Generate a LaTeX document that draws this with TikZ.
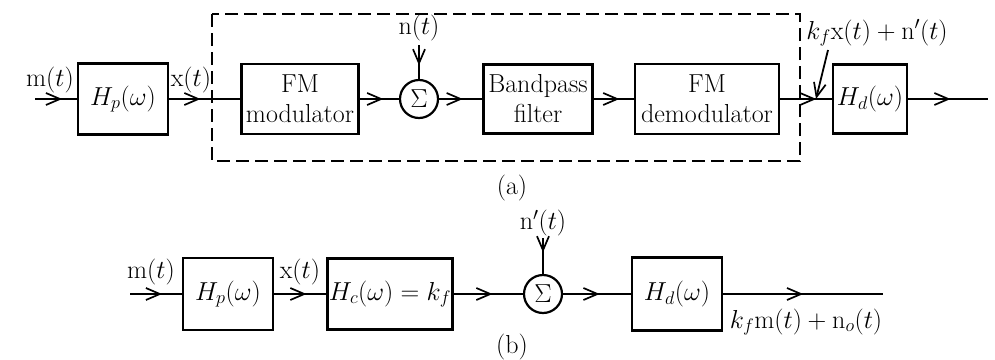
\RequirePackage{fix-cm}
\documentclass[tikz,border=0pt]{standalone}
\usetikzlibrary{decorations.markings,arrows.meta}
\begin{document}
\begin{tikzpicture}[x=1pt,y=-1pt,
  every node/.style={font=\fontsize{26}{30}\selectfont},
  blk/.style={draw,line width=2.6pt,inner sep=0pt,align=center},
  sumc/.style={draw,circle,line width=2.2pt,minimum size=38pt,inner sep=0pt},
  lab/.style={inner sep=0pt},
  >={Straight Barb[length=14pt,width=12pt,line width=1.7pt]},
  arr/.style={line width=1.8pt,postaction={decorate},
    decoration={markings,mark=at position #1 with {\arrow{>}}}},
  dashbox/.style={line width=1.6pt,dash pattern=on 13pt off 6pt}
]
\useasboundingbox[fill=white] (0,0) rectangle (995,359);

% ---------- (a) ----------
\coordinate (inA) at (35,99);
\node[lab] (mtA) at (50,80) {$\mathrm{m}(t)$};
\node[blk,minimum width=90pt,minimum height=71pt] (hpA) at (123,99) {$H_p(\omega)$};
\node[lab] (xtA) at (191,80) {$\mathrm{x}(t)$};
\node[blk,minimum width=117pt,minimum height=70pt] (fmm) at (300,99) {FM\\modulator};
\node[sumc] (sumA) at (419,99) {$\Sigma$};
\node[lab] (ntA) at (419,28) {$\mathrm{n}(t)$};
\coordinate (nA) at (419,45);
\node[blk,minimum width=109pt,minimum height=69pt] (bpf) at (538,99) {Bandpass\\filter};
\node[blk,minimum width=144pt,minimum height=70pt] (fmd) at (707,99) {FM\\demodulator};
\node[blk,minimum width=74pt,minimum height=69pt] (hdA) at (870,99) {$H_d(\omega)$};
\coordinate (outA) at (988,99);
\node[lab] (kxA) at (877,33) {$k_f\mathrm{x}(t) + \mathrm{n}'(t)$};
\coordinate (ks) at (828,50);
\coordinate (ke) at (816,99);
\node[lab] (capA) at (512,188) {(a)};

\draw[dashbox] (212,14) rectangle (800,161);

\draw[arr=0.65] (inA) -- (hpA.west);
\draw[arr=0.44] (hpA.east) -- (fmm.west);
\draw[arr=0.6] (fmm.east) -- (sumA.west);
\draw[arr=0.6] (nA) -- (sumA.north);
\draw[arr=0.55] (sumA.east) -- (bpf.west);
\draw[arr=0.64] (bpf.east) -- (fmd.west);
\draw[arr=0.7] (fmd.east) -- (hdA.west);
\draw[arr=0.53] (hdA.east) -- (outA);
\draw[line width=1.8pt,->] (ks) -- (ke);

% ---------- (b) ----------
\coordinate (inB) at (130,294);
\node[lab] (mtB) at (151,272) {$\mathrm{m}(t)$};
\node[blk,minimum width=90pt,minimum height=72pt] (hpB) at (228,294) {$H_p(\omega)$};
\node[lab] (xtB) at (300,272) {$\mathrm{x}(t)$};
\node[blk,minimum width=125pt,minimum height=71pt] (hc) at (390,294) {$H_c(\omega) = k_f$};
\node[sumc] (sumB) at (543,294) {$\Sigma$};
\node[lab] (ntB) at (543,223) {$\mathrm{n}'(t)$};
\coordinate (nB) at (543,238);
\node[blk,minimum width=90pt,minimum height=73pt] (hdB) at (677,294) {$H_d(\omega)$};
\coordinate (outB) at (883,294);
\node[lab] (kmB) at (806,322) {$k_f\mathrm{m}(t) + \mathrm{n}_o(t)$};
\node[lab] (capB) at (512,347) {(b)};

\draw[arr=0.62] (inB) -- (hpB.west);
\draw[arr=0.62] (hpB.east) -- (hc.west);
\draw[arr=0.56] (hc.east) -- (sumB.west);
\draw[arr=0.4] (nB) -- (sumB.north);
\draw[arr=0.54] (sumB.east) -- (hdB.west);
\draw[arr=0.5] (hdB.east) -- (outB);
\end{tikzpicture}
\end{document}
